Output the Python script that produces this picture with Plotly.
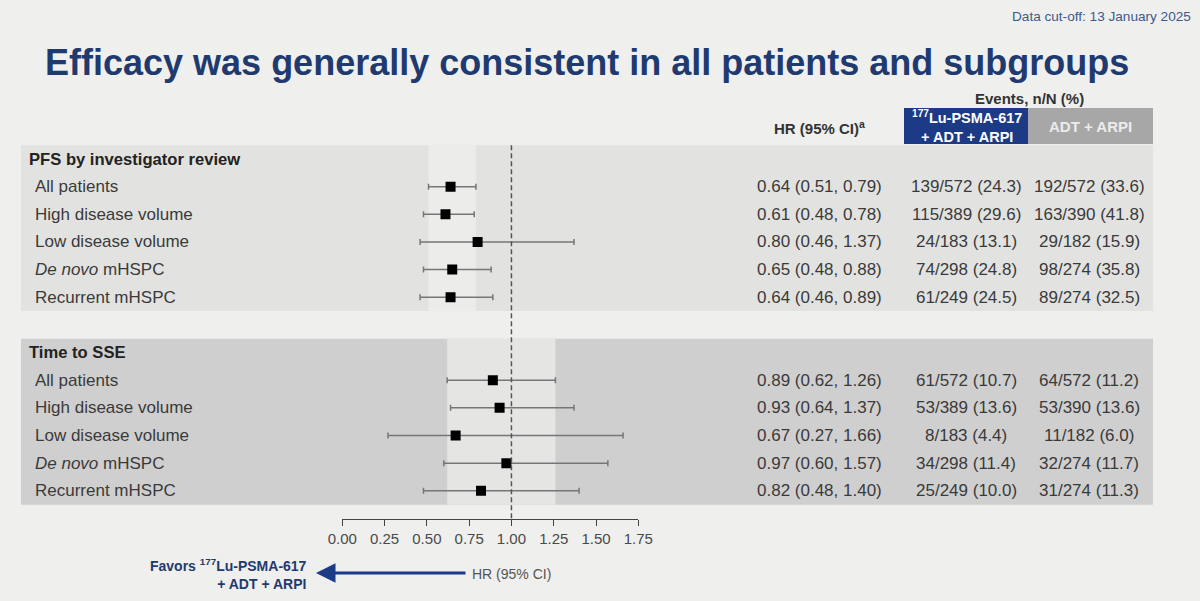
import plotly.graph_objects as go

# ---------------- data ----------------
subgroups = ["All patients", "High disease volume", "Low disease volume",
             "<i>De novo</i> mHSPC", "Recurrent mHSPC"]

pfs_title = "PFS by investigator review"
pfs_hr = [0.64, 0.61, 0.80, 0.65, 0.64]
pfs_lo = [0.51, 0.48, 0.46, 0.48, 0.46]
pfs_hi = [0.79, 0.78, 1.37, 0.88, 0.89]
pfs_lu = ["139/572 (24.3)", "115/389 (29.6)", "24/183 (13.1)", "74/298 (24.8)", "61/249 (24.5)"]
pfs_ctl = ["192/572 (33.6)", "163/390 (41.8)", "29/182 (15.9)", "98/274 (35.8)", "89/274 (32.5)"]

sse_title = "Time to SSE"
sse_hr = [0.89, 0.93, 0.67, 0.97, 0.82]
sse_lo = [0.62, 0.64, 0.27, 0.60, 0.48]
sse_hi = [1.26, 1.37, 1.66, 1.57, 1.40]
sse_lu = ["61/572 (10.7)", "53/389 (13.6)", "8/183 (4.4)", "34/298 (11.4)", "25/249 (10.0)"]
sse_ctl = ["64/572 (11.2)", "53/390 (13.6)", "11/182 (6.0)", "32/274 (11.7)", "31/274 (11.3)"]

tick_vals = [0.00, 0.25, 0.50, 0.75, 1.00, 1.25, 1.50, 1.75]

title_text = "Efficacy was generally consistent in all patients and subgroups"
cutoff_text = "Data cut-off: 13 January 2025"
arm1_label = "<sup>177</sup>Lu-PSMA-617<br>+ ADT + ARPI"
arm2_label = "ADT + ARPI"
favors_text = "Favors <sup>177</sup>Lu-PSMA-617<br>+ ADT + ARPI"

# ---------------- style ----------------
W, H = 1200, 601
FONT = "Liberation Sans, Arial, sans-serif"
BG = "#efefee"
NAVY = "#1f3a6e"
BLUE_BOX = "#1d3a86"
GREY_BOX = "#a7a7a7"
PFS_PANEL = "#e2e3e1"
PFS_BAND = "#ecedeb"
SSE_PANEL = "#cfcfcf"
SSE_BAND = "#e5e5e4"
TXT = "#3a3a3a"


def px(xp):
    return xp / W


def py(yp):
    return 1 - yp / H


# row slots: header 0, rows 1..5, gap 6, header 7, rows 8..12
pfs_rows = [1, 2, 3, 4, 5]
sse_rows = [8, 9, 10, 11, 12]
row_h = 27.65
axis_px = 519
y_bottom = (axis_px - 159) / row_h
y_top = y_bottom - axis_px / row_h

fig = go.Figure()

for hr, lo, hi, rows in [(pfs_hr, pfs_lo, pfs_hi, pfs_rows), (sse_hr, sse_lo, sse_hi, sse_rows)]:
    fig.add_trace(go.Scatter(
        x=hr, y=rows, mode="markers",
        marker=dict(symbol="square", size=10, color="black"),
        error_x=dict(type="data", symmetric=False,
                     array=[h - m for h, m in zip(hi, hr)],
                     arrayminus=[m - l for m, l in zip(hr, lo)],
                     color="#767676", thickness=1.5, width=3),
        showlegend=False, hoverinfo="skip"))

shapes = []
# panels
for (top, bot, col) in [(-0.5, 5.5, PFS_PANEL), (6.5, 12.5, SSE_PANEL)]:
    shapes.append(dict(type="rect", xref="paper", yref="y", x0=px(21), x1=px(1153),
                       y0=top, y1=bot, fillcolor=col, line=dict(width=0), layer="below"))
# overall CI bands
shapes.append(dict(type="rect", xref="x", yref="y", x0=pfs_lo[0], x1=pfs_hi[0],
                   y0=-0.5, y1=5.5, fillcolor=PFS_BAND, line=dict(width=0), layer="below"))
shapes.append(dict(type="rect", xref="x", yref="y", x0=sse_lo[0], x1=sse_hi[0],
                   y0=6.5, y1=12.5, fillcolor=SSE_BAND, line=dict(width=0), layer="below"))
# reference line at HR = 1
shapes.append(dict(type="line", xref="x", yref="y", x0=1, x1=1, y0=-0.5, y1=y_bottom,
                   line=dict(color="#555555", width=1.5, dash="5px,3px"), layer="above"))
# header boxes
shapes.append(dict(type="rect", xref="paper", yref="paper", x0=px(904), x1=px(1028),
                   y0=py(144), y1=py(108), fillcolor=BLUE_BOX, line=dict(width=0)))
shapes.append(dict(type="rect", xref="paper", yref="paper", x0=px(1028), x1=px(1153),
                   y0=py(144), y1=py(108), fillcolor=GREY_BOX, line=dict(width=0)))

ann = []


def text(x, y, t, size=17, color=TXT, xanchor="left", yref="y", bold=False, align="left"):
    if bold:
        t = "<b>" + t + "</b>"
    ann.append(dict(x=x, y=y, xref="paper", yref=yref, text=t, showarrow=False,
                    xanchor=xanchor, yanchor="middle", align=align,
                    font=dict(family=FONT, size=size, color=color)))


# panel headers
text(px(27), 0, pfs_title, size=16.6, color="#222222", bold=True)
text(px(27), 7, sse_title, size=16.6, color="#222222", bold=True)

for rows, hr, lo, hi, lu, ctl in [(pfs_rows, pfs_hr, pfs_lo, pfs_hi, pfs_lu, pfs_ctl),
                                  (sse_rows, sse_hr, sse_lo, sse_hi, sse_lu, sse_ctl)]:
    for r, name, h, l, u, a, c in zip(rows, subgroups, hr, lo, hi, lu, ctl):
        text(px(33), r, name)
        text(px(819), r, f"{h:.2f} ({l:.2f}, {u:.2f})", xanchor="center")
        text(px(966), r, a, xanchor="center")
        text(px(1089), r, c, xanchor="center")

# titles and headers
text(px(587), py(62), "<b>" + title_text + "</b>", size=36, color=NAVY, xanchor="center", yref="paper")
text(px(1193), py(17), cutoff_text, size=13.6, color="#3d5a8e", xanchor="right", yref="paper")
text(px(819), py(127), "HR (95% CI)<sup>a</sup>", size=15, color="#333333", xanchor="center", yref="paper", bold=True)
text(px(1029), py(99), "Events, n/N (%)", size=15, color="#333333", xanchor="center", yref="paper", bold=True)
text(px(967), py(126), arm1_label, size=14.5, color="white", xanchor="center", yref="paper", bold=True, align="center")
text(px(1090), py(126), arm2_label, size=15, color="#ececec", xanchor="center", yref="paper", bold=True, align="center")

# favors arrow
ann.append(dict(x=px(316), y=py(573), ax=467 - 316, ay=0, xref="paper", yref="paper",
                axref="pixel", ayref="pixel", text="", showarrow=True, arrowhead=2,
                arrowsize=1.3, arrowwidth=3, arrowcolor=BLUE_BOX))
text(px(470), py(574), "HR (95% CI)", size=14, color="#555555", yref="paper")
text(px(309), py(574), favors_text, size=14, color=NAVY, xanchor="right", yref="paper",
     bold=True, align="right")

fig.update_layout(
    width=W, height=H, autosize=False,
    margin=dict(l=0, r=0, t=0, b=0, pad=0, autoexpand=False),
    paper_bgcolor=BG, plot_bgcolor="rgba(0,0,0,0)",
    shapes=shapes, annotations=ann,
    xaxis=dict(domain=[px(342.3), px(638.3)], range=[0, 1.75],
               tickvals=tick_vals, tickformat=".2f", ticks="outside", ticklen=6,
               tickcolor="#444444", showline=True, linecolor="#444444", linewidth=1,
               showgrid=False, zeroline=False, automargin=False,
               tickfont=dict(family=FONT, size=15, color="#4a4a4a")),
    yaxis=dict(domain=[1 - axis_px / H, 1], range=[y_bottom, y_top], visible=False,
               showgrid=False, zeroline=False, automargin=False),
)

fig.write_html("out.html")
